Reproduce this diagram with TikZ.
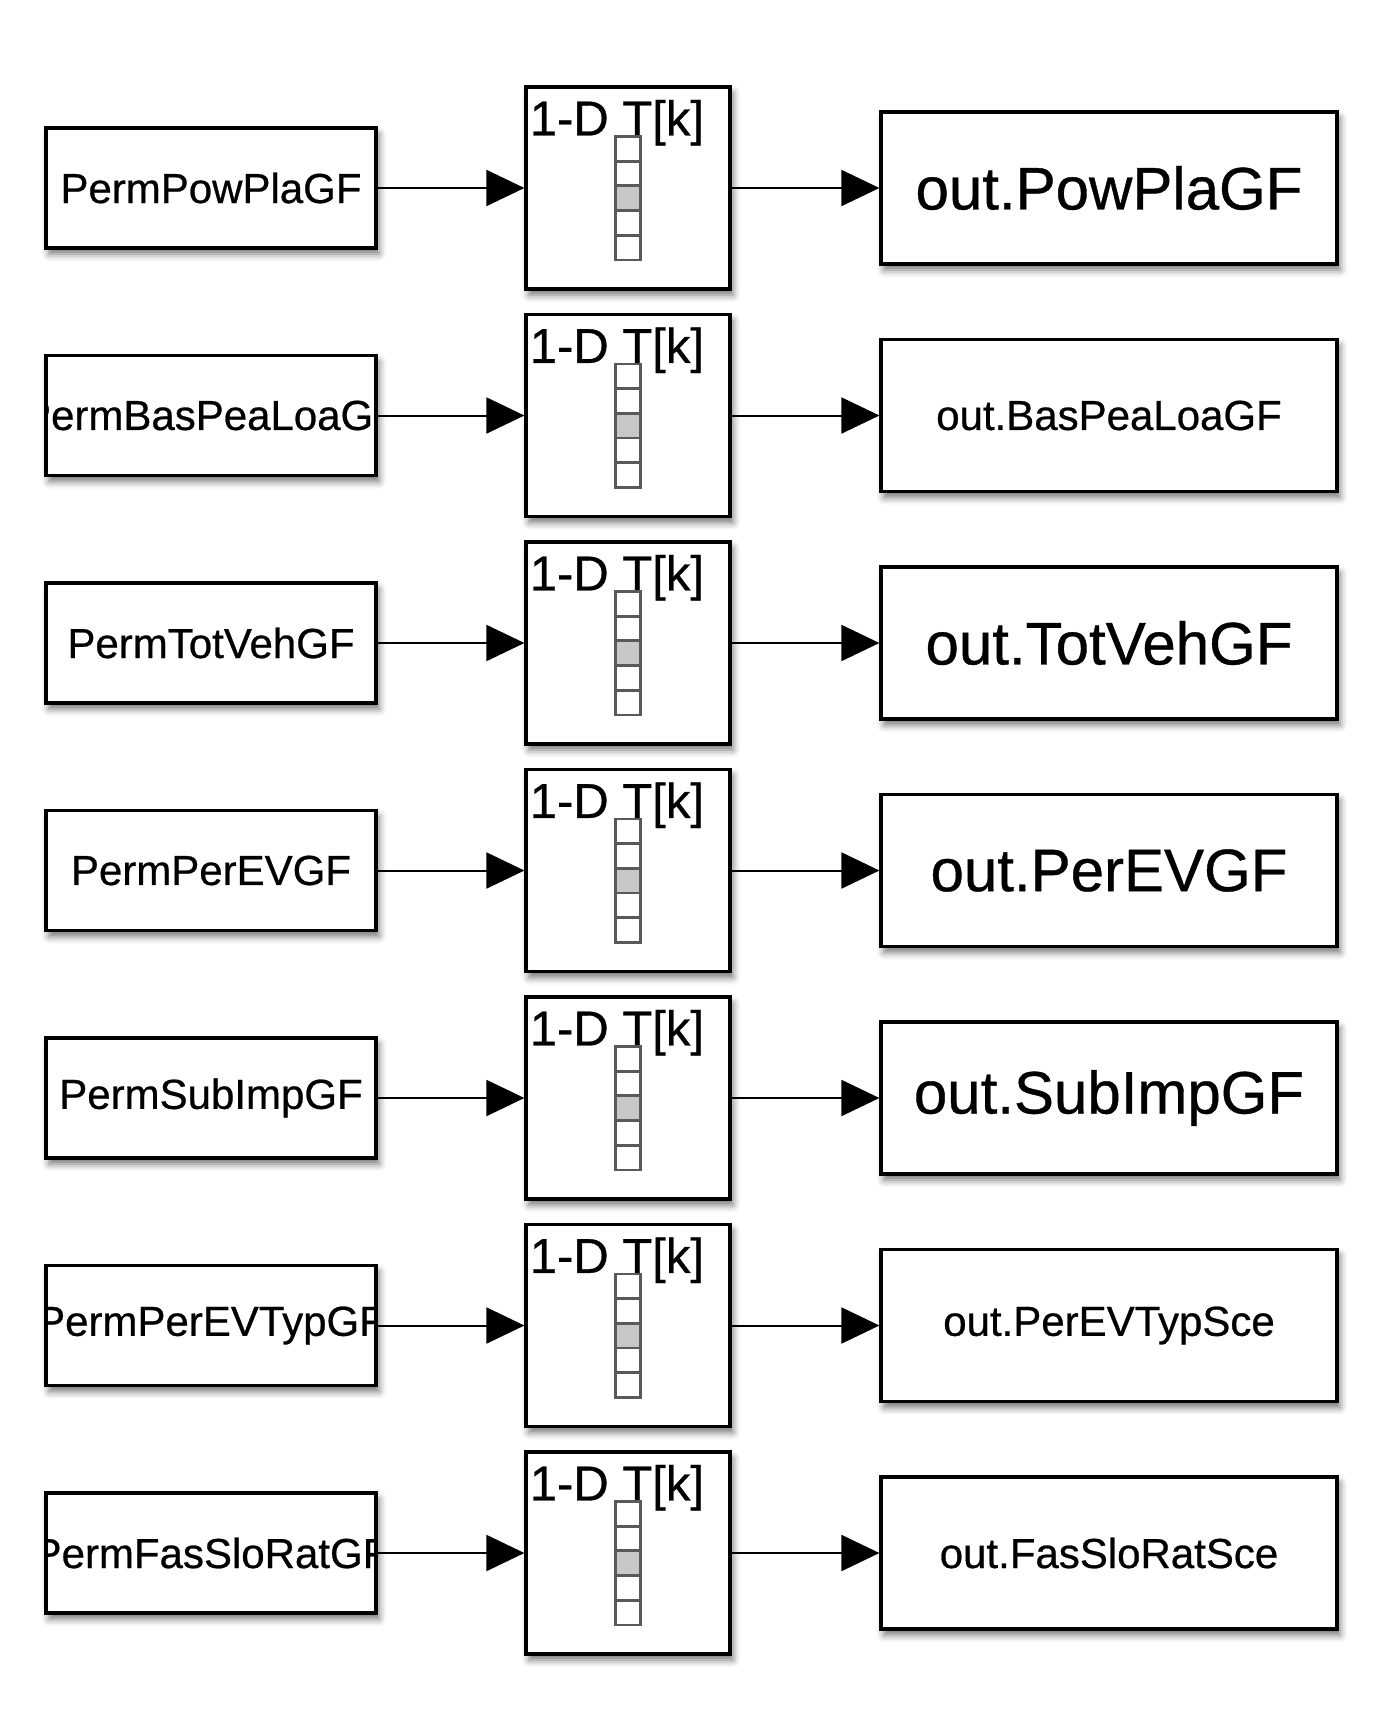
\documentclass[tikz,border=0pt]{standalone}
\usepackage{fontspec}
\setmainfont{Liberation Sans}
\newfontfamily\blkfont{Liberation Sans}[FakeBold=0.6]
\usetikzlibrary{arrows.meta,calc,shadows.blur}
\begin{document}
\begin{tikzpicture}[x=0.5pt,y=-0.5pt,
  box/.style={draw=black, line width=1.6pt, fill=white, inner sep=0pt,
    blur shadow={shadow xshift=1.5pt, shadow yshift=-3pt, shadow blur radius=3.5pt, shadow opacity=55}},
  srcbox/.style={box, minimum width=165pt, minimum height=60pt,
    path picture={\node[font=\blkfont\fontsize{21}{24}\selectfont, inner sep=0pt] at (path picture bounding box.center) {#1};}},
  lutbox/.style={box, minimum width=102pt, minimum height=101pt},
  outbox/.style={box, minimum width=228pt, minimum height=76pt},
  bigout/.style={font=\blkfont\fontsize{30}{34}\selectfont},
  smallout/.style={font=\blkfont\fontsize{21}{24}\selectfont},
  lutlabel/.style={font=\blkfont\fontsize{24.5}{28}\selectfont, inner sep=0pt, anchor=base west},
  cell/.style={draw=black!65, line width=1.4pt, fill=white},
  hcell/.style={cell, fill=black!22},
  sig/.style={line width=1pt, -{Triangle[length=19pt,width=18pt]}}
]
\useasboundingbox (0,0) rectangle (1386,1713);
\foreach \i/\src/\dst/\sz in {
  0/PermPowPlaGF/out.PowPlaGF/bigout,
  1/PermBasPeaLoaGF/out.BasPeaLoaGF/smallout,
  2/PermTotVehGF/out.TotVehGF/bigout,
  3/PermPerEVGF/out.PerEVGF/bigout,
  4/PermSubImpGF/out.SubImpGF/bigout,
  5/PermPerEVTypGF/out.PerEVTypSce/smallout,
  6/PermFasSloRatGF/out.FasSloRatSce/smallout}{
  \pgfmathsetmacro\yy{188+227.5*\i}
  \node[srcbox=\src] (s\i) at (211,\yy) {};
  \node[lutbox] (m\i) at (628,\yy) {};
  \node[outbox,\sz] (o\i) at (1109,\yy) {\dst};
  \node[lutlabel] (l\i) at ($(m\i.north west)+(5,50)$) {1-D T[k]};
  \foreach \k in {0,...,4}{
    \draw[cell] ($(m\i.north)+(-12.5,51+24.7*\k)$) rectangle +(25,24.7);
  }
  \draw[hcell] ($(m\i.north)+(-12.5,51+24.7*2)$) rectangle +(25,24.7);
  \draw[sig] (s\i) -- (m\i);
  \draw[sig] (m\i) -- (o\i);
}
\end{tikzpicture}
\end{document}
